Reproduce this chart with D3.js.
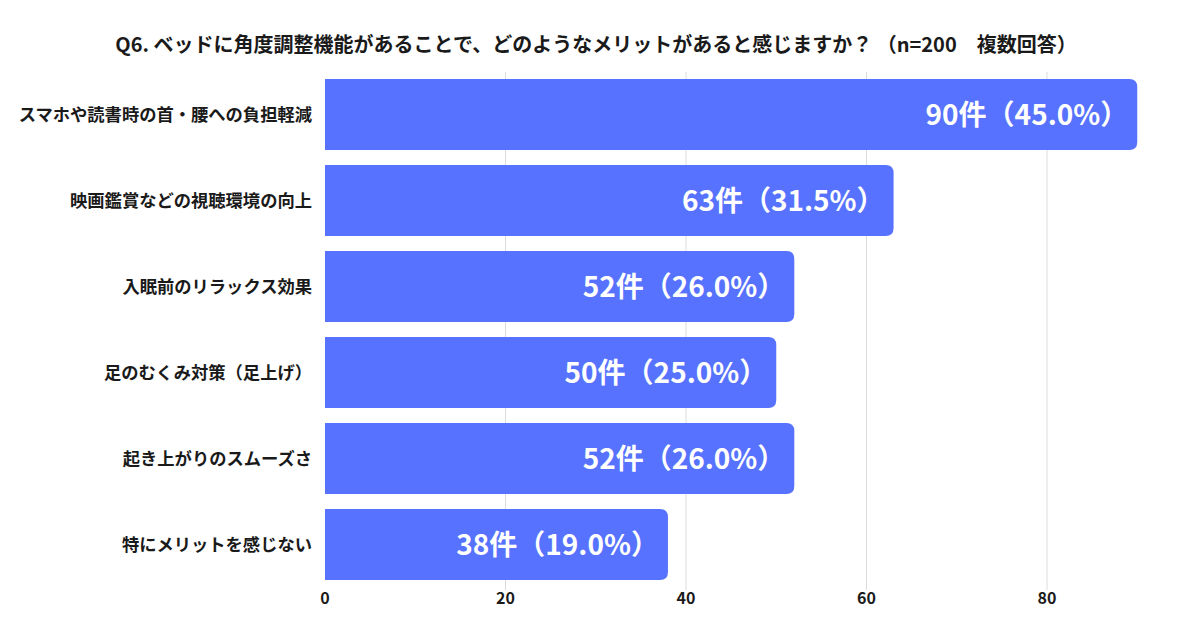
<!DOCTYPE html>
<html>
<head>
<meta charset="UTF-8">
<title>Q6</title>
<script src="https://cdn.jsdelivr.net/npm/d3@7"></script>
<style>
  body { margin: 0; background: #fff; }
  text { font-family: "Noto Sans CJK JP", "Noto Sans", sans-serif; font-weight: 700; }
</style>
</head>
<body>
<div id="graphe"></div>
<script>
var titleText = "Q6. ベッドに角度調整機能があることで、どのようなメリットがあると感じますか？ （n=200　複数回答）";
var categories = [
  "スマホや読書時の首・腰への負担軽減",
  "映画鑑賞などの視聴環境の向上",
  "入眠前のリラックス効果",
  "足のむくみ対策（足上げ）",
  "起き上がりのスムーズさ",
  "特にメリットを感じない"
];
var counts = [90, 63, 52, 50, 52, 38];
var percents = ["45.0", "31.5", "26.0", "25.0", "26.0", "19.0"];
var tickValues = [0, 20, 40, 60, 80];

var width = 1200, height = 624;
var svg = d3.select("#graphe").append("svg")
  .attr("width", width).attr("height", height);

var x = d3.scaleLinear().domain([0, 80]).range([325, 1047]);
var y = d3.scaleBand().domain(categories).range([71.5, 587.5])
  .paddingInner(0.174).paddingOuter(0.087);

// titre
svg.append("text")
  .attr("x", 596).attr("y", 52)
  .attr("text-anchor", "middle")
  .attr("font-size", 20)
  .attr("fill", "#1a1a1a")
  .text(titleText);

// grille
svg.append("g").selectAll("line")
  .data(tickValues.filter(function(d) { return d > 0; }))
  .enter().append("line")
  .attr("x1", function(d) { return x(d); })
  .attr("x2", function(d) { return x(d); })
  .attr("y1", 72).attr("y2", 590)
  .attr("stroke", "#dcdcdc").attr("stroke-width", 1);

// barres, coins arrondis a droite seulement
var r = 8;
function barPath(d, i) {
  var x0 = x(0), x1 = x(d), y0 = y(categories[i]), h = y.bandwidth();
  return "M" + x0 + "," + y0 +
    "H" + (x1 - r) +
    "Q" + x1 + "," + y0 + " " + x1 + "," + (y0 + r) +
    "V" + (y0 + h - r) +
    "Q" + x1 + "," + (y0 + h) + " " + (x1 - r) + "," + (y0 + h) +
    "H" + x0 + "Z";
}
svg.append("g").selectAll("path")
  .data(counts)
  .enter().append("path")
  .attr("d", barPath)
  .attr("fill", "#5672fe");

// valeurs
svg.append("g").selectAll("text")
  .data(counts)
  .enter().append("text")
  .attr("x", function(d) { return x(d) - 9; })
  .attr("y", function(d, i) { return y(categories[i]) + y.bandwidth() / 2; })
  .attr("dy", "0.36em")
  .attr("text-anchor", "end")
  .attr("font-size", 28)
  .attr("fill", "#fff")
  .text(function(d, i) { return d + "件（" + percents[i] + "%）"; });

// categories
svg.append("g").selectAll("text")
  .data(categories)
  .enter().append("text")
  .attr("x", 312)
  .attr("y", function(d) { return y(d) + y.bandwidth() / 2; })
  .attr("dy", "0.36em")
  .attr("text-anchor", "end")
  .attr("font-size", 17.3)
  .attr("fill", "#1a1a1a")
  .text(function(d) { return d; });

// axe x
svg.append("g").selectAll("text")
  .data(tickValues)
  .enter().append("text")
  .attr("x", function(d) { return x(d); })
  .attr("y", 598)
  .attr("dy", "0.36em")
  .attr("text-anchor", "middle")
  .attr("font-size", 16)
  .attr("fill", "#1a1a1a")
  .text(function(d) { return d; });
</script>
</body>
</html>
